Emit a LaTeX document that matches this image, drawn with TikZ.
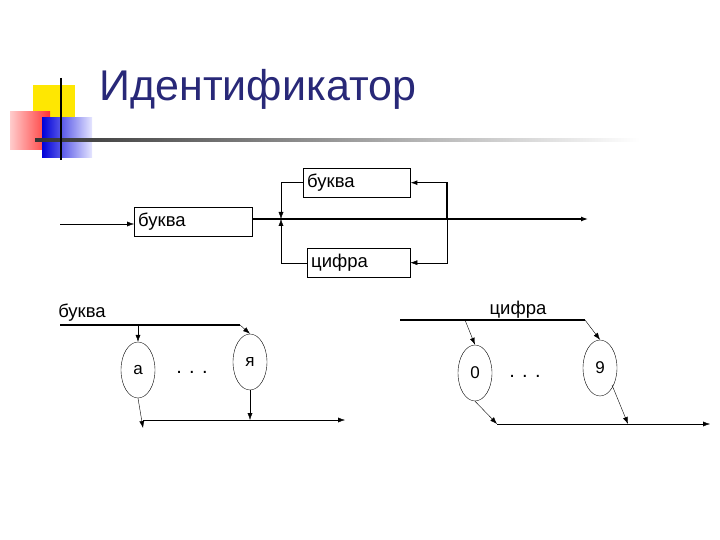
\documentclass[tikz,border=0pt]{standalone}
\usepackage{fontspec}
\setmainfont{Liberation Sans}
\usetikzlibrary{arrows.meta,shapes.geometric}
\definecolor{ttl}{RGB}{40,40,120}
\begin{document}
\begin{tikzpicture}[x=1pt,y=-1pt,
  bx/.style={draw,minimum width=#1,minimum height=29,inner sep=0,anchor=north west,text width=#1-8,align=left},
  el/.style={draw,ellipse,minimum width=34,minimum height=56,inner sep=0,font=\fontsize{17}{17}\selectfont},
  ar/.style={-{Latex[length=7,width=5]}},
  lbl/.style={font=\fontsize{18.5}{18.5}\selectfont}]
\useasboundingbox (0,0) rectangle (720,540);
% decoration
\fill[yellow!90!orange] (33,85) rectangle (75,125);
\shade[left color=red!20,right color=red!80] (10,112) rectangle (50,150);
\shade[left color=blue!85!black,right color=blue!10] (42,118) rectangle (92,158);
\shade[left color=black!80,right color=white] (35,139) rectangle (640,142);
\draw[line width=1.5] (61,78) -- (61,160);
\node[anchor=west,text=ttl,font=\fontsize{43}{43}\selectfont] (title) at (96,89) {Идентификатор};
% top diagram
\node[bx=107,lbl] (b1) at (303,168) {буква};
\node[bx=118,lbl] (b0) at (134,207) {буква};
\node[bx=103,lbl] (c1) at (307,248) {цифра};
\coordinate (in) at (60,224);
\coordinate (j) at (281,219);
\coordinate (out) at (588,219);
\coordinate (r) at (447,219);
\draw[ar] (in) -- (in -| b0.west);
\draw[ar,line width=1.2] (b0.east |- j) -- (out);
\draw (b1.west) -| (281,212);
\draw[ar] (281,205) -- (j);
\draw (c1.west) -| (281,226);
\draw[ar] (281,234) -- (j);
\draw[ar,line width=1.1] (r) |- (b1.east);
\draw[ar] (r) |- (c1.east);
% bottom left
\node[lbl] (lb) at (82,313) {буква};
\node[el] (ea) at (138,370) {а};
\node[el] (eя) at (250,362) {я};
\node[font=\fontsize{20}{20}\selectfont] (d1) at (192,372) {. . .};
\coordinate (s1) at (60,325);
\coordinate (k1) at (240,325);
\draw[line width=1.2] (s1) -- (k1);
\draw[ar] (k1) -- (eя.north);
\draw[ar] (138,325) -- (ea.north);
\coordinate (o1) at (345,420);
\coordinate (a1) at (143,420);
\draw[ar] (ea.south) -- (143,428);
\draw[ar] (eя.south) -- (250,420);
\draw[ar] (a1) -- (o1);
% bottom right
\node[lbl] (lc) at (518,310) {цифра};
\node[el] (e0) at (475,373) {0};
\node[el] (e9) at (600,368) {9};
\node[font=\fontsize{20}{20}\selectfont] (d2) at (525,376) {. . .};
\coordinate (s2) at (400,320);
\coordinate (k2) at (585,320);
\draw[line width=1.2] (s2) -- (k2);
\draw[ar] (k2) -- (e9.north);
\draw[ar] (465,320) -- (e0.north);
\coordinate (a2) at (497,424);
\coordinate (o2) at (710,424);
\draw[ar] (e0.south) -- (a2);
\draw[ar] (612,385) -- (628,424);
\draw[ar] (a2) -- (o2);
\end{tikzpicture}
\end{document}
